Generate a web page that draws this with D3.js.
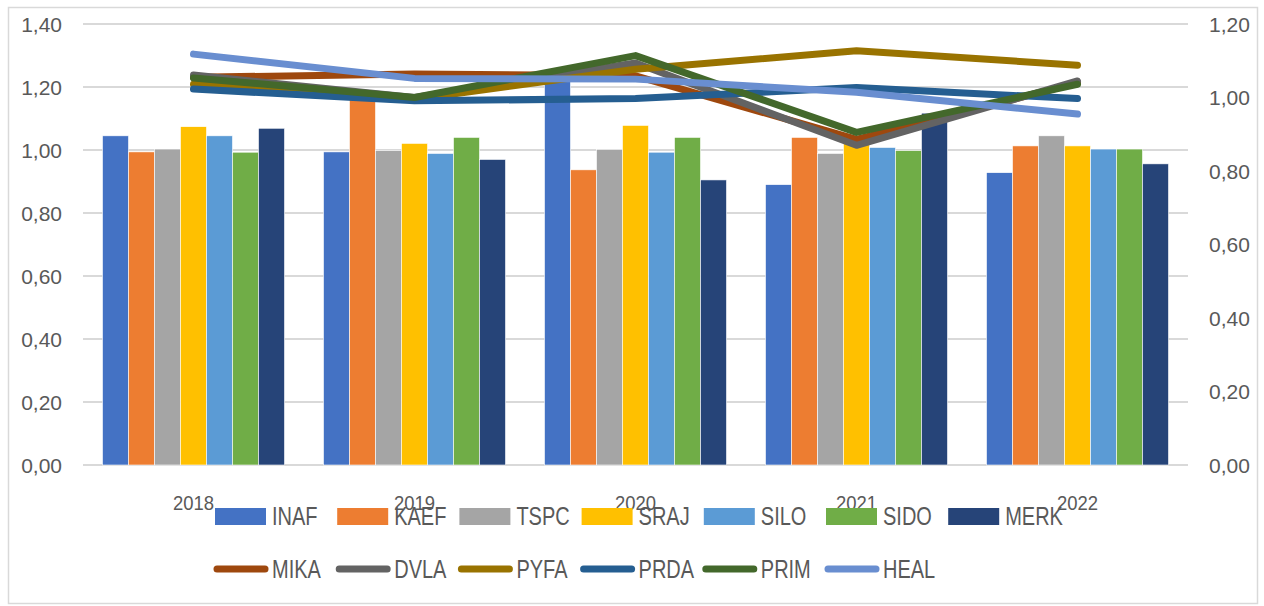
<!DOCTYPE html>
<html>
<head>
<meta charset="utf-8">
<script src="https://cdn.jsdelivr.net/npm/d3@7"></script>
<style>
  body { margin: 0; background: #fff; }
  text { fill: #595959; }
</style>
</head>
<body>
<script>
// Data
var years = ["2018", "2019", "2020", "2021", "2022"];
var barNames = ["INAF", "KAEF", "TSPC", "SRAJ", "SILO", "SIDO", "MERK"];
var lineNames = ["MIKA", "DVLA", "PYFA", "PRDA", "PRIM", "HEAL"];

var INAF = [1.045, 0.994, 1.23, 0.89, 0.928];
var KAEF = [0.994, 1.18, 0.937, 1.040, 1.013];
var TSPC = [1.003, 0.998, 1.002, 0.989, 1.045];
var SRAJ = [1.074, 1.021, 1.078, 1.03, 1.013];
var SILO = [1.045, 0.989, 0.993, 1.008, 1.003];
var SIDO = [0.993, 1.040, 1.040, 0.998, 1.003];
var MERK = [1.069, 0.970, 0.905, 1.117, 0.956];

var MIKA = [1.055, 1.064, 1.059, 0.886, 1.040];
var DVLA = [1.061, 1.000, 1.094, 0.870, 1.045];
var PYFA = [1.036, 0.995, 1.077, 1.127, 1.088];
var PRDA = [1.023, 0.991, 0.997, 1.027, 0.997];
var PRIM = [1.053, 1.000, 1.114, 0.905, 1.036];
var HEAL = [1.118, 1.052, 1.050, 1.014, 0.955];

var leftTicks = [0, 0.2, 0.4, 0.6, 0.8, 1.0, 1.2, 1.4];
var rightTicks = [0, 0.2, 0.4, 0.6, 0.8, 1.0, 1.2];

var barValues = [INAF, KAEF, TSPC, SRAJ, SILO, SIDO, MERK];
var lineValues = [MIKA, DVLA, PYFA, PRDA, PRIM, HEAL];
var barColors = ["#4472C4", "#ED7D31", "#A5A5A5", "#FFC000", "#5B9BD5", "#70AD47", "#264478"];
var lineColors = ["#9E480E", "#636363", "#997300", "#255E91", "#43682B", "#698ED0"];

var width = 1264;
var height = 606;

var svg = d3.select("body").append("svg")
    .attr("width", width)
    .attr("height", height);

// chart frame
svg.append("rect")
    .attr("x", 8.5).attr("y", 7.5)
    .attr("width", 1249).attr("height", 596)
    .attr("fill", "#fff")
    .attr("stroke", "#d9d9d9")
    .attr("stroke-width", 1.5);

// Scales
var x = d3.scaleBand()
    .domain(years)
    .range([83, 1188]);

var xSub = d3.scaleBand()
    .domain(barNames)
    .range([0, x.bandwidth()])
    .paddingOuter(0.75);

var yLeft = d3.scaleLinear().domain([0, 1.4]).range([465, 24]);
var yRight = d3.scaleLinear().domain([0, 1.2]).range([465, 24]);

var fmt = function (d) { return d3.format(".2f")(d).replace(".", ","); };

// Gridlines
svg.append("g")
    .selectAll("line")
    .data(leftTicks)
    .enter().append("line")
    .attr("x1", 83).attr("x2", 1188)
    .attr("y1", function (d) { return yLeft(d); })
    .attr("y2", function (d) { return yLeft(d); })
    .attr("stroke", "#d9d9d9")
    .attr("stroke-width", 2);

// Left axis labels
svg.append("g")
    .selectAll("text")
    .data(leftTicks)
    .enter().append("text")
    .attr("x", 62)
    .attr("y", function (d) { return yLeft(d); })
    .attr("dy", "0.36em")
    .attr("text-anchor", "end")
    .attr("font-family", "Liberation Sans, Arial, sans-serif")
    .attr("font-size", "21px")
    .text(fmt);

// Right axis labels
svg.append("g")
    .selectAll("text")
    .data(rightTicks)
    .enter().append("text")
    .attr("x", 1209)
    .attr("y", function (d) { return yRight(d); })
    .attr("dy", "0.36em")
    .attr("text-anchor", "start")
    .attr("font-family", "Liberation Sans, Arial, sans-serif")
    .attr("font-size", "21px")
    .text(fmt);

// Bars
var barData = [];
barNames.forEach(function (name, i) {
    years.forEach(function (yr, j) {
        barData.push({ name: name, year: yr, value: barValues[i][j], color: barColors[i] });
    });
});

svg.append("g")
    .selectAll("rect")
    .data(barData)
    .enter().append("rect")
    .attr("x", function (d) { return x(d.year) + xSub(d.name); })
    .attr("y", function (d) { return yLeft(d.value); })
    .attr("width", xSub.bandwidth())
    .attr("height", function (d) { return yLeft(0) - yLeft(d.value); })
    .attr("fill", function (d) { return d.color; })
    .attr("stroke", "#fff")
    .attr("stroke-width", 0.6);

// Lines
var line = d3.line()
    .x(function (d, i) { return x(years[i]) + x.bandwidth() / 2; })
    .y(function (d) { return yRight(d); });

svg.append("g")
    .selectAll("path")
    .data(lineValues)
    .enter().append("path")
    .attr("d", line)
    .attr("fill", "none")
    .attr("stroke", function (d, i) { return lineColors[i]; })
    .attr("stroke-width", 7)
    .attr("stroke-linecap", "round")
    .attr("stroke-linejoin", "round");

// Year labels (they overlap the legend, as in the original)
svg.append("g")
    .selectAll("text")
    .data(years)
    .enter().append("text")
    .attr("transform", function (d) {
        return "translate(" + (x(d) + x.bandwidth() / 2) + ",510) scale(0.88,1)";
    })
    .attr("text-anchor", "middle")
    .attr("font-family", "Liberation Sans, Arial, sans-serif")
    .attr("font-size", "21px")
    .text(function (d) { return d; });

// Legend
var legendX = function (i) { return 215 + i * 122.2; };

var row1 = svg.append("g").attr("class", "legend");
barNames.forEach(function (name, i) {
    row1.append("rect")
        .attr("x", legendX(i)).attr("y", 508)
        .attr("width", 51).attr("height", 17)
        .attr("fill", barColors[i]);
    row1.append("text")
        .attr("transform", "translate(" + (legendX(i) + 57) + ",525) scale(0.8,1)")
        .attr("font-family", "Liberation Sans, Arial, sans-serif")
        .attr("font-size", "25px")
        .text(name);
});

var row2 = svg.append("g").attr("class", "legend");
lineNames.forEach(function (name, i) {
    row2.append("line")
        .attr("x1", legendX(i) + 2).attr("x2", legendX(i) + 50)
        .attr("y1", 569).attr("y2", 569)
        .attr("stroke", lineColors[i])
        .attr("stroke-width", 7)
        .attr("stroke-linecap", "round");
    row2.append("text")
        .attr("transform", "translate(" + (legendX(i) + 57) + ",578) scale(0.8,1)")
        .attr("font-family", "Liberation Sans, Arial, sans-serif")
        .attr("font-size", "25px")
        .text(name);
});
</script>
</body>
</html>
